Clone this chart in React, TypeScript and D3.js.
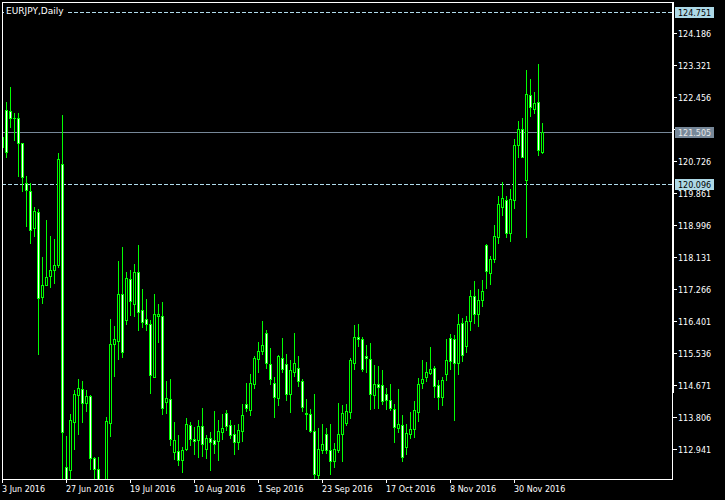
import React, { useEffect } from 'react';
import * as d3 from 'd3';

const TITLE = 'EURJPY,Daily';

const OPEN = [
  121.111, 122.101, 122.082, 121.885, 121.885, 121.219, 120.122, 119.925, 118.908, 119.358,
  117.047, 117.381, 117.613, 117.786, 117.929, 120.645, 112.462, 112.373, 113.676, 114.396,
  114.577, 114.188, 114.369, 112.716, 112.400, 111.834, 111.969, 113.649, 115.790, 115.852,
  117.139, 116.437, 117.543, 116.869, 117.732, 116.688, 116.464, 116.330, 114.889, 116.535,
  116.526, 114.215, 114.307, 112.867, 112.886, 112.643, 112.939, 113.587, 113.228, 113.201,
  113.560, 112.948, 113.255, 113.182, 113.163, 113.406, 113.929, 113.587, 113.344, 113.136,
  113.433, 114.172, 113.991, 114.711, 115.386, 115.591, 116.076, 115.232, 114.738, 114.334,
  115.413, 115.232, 114.442, 115.024, 115.143, 114.773, 113.929, 113.902, 113.425, 112.257,
  112.931, 113.363, 112.931, 112.624, 112.912, 113.363, 113.649, 113.946, 115.278, 115.968,
  115.914, 115.448, 115.386, 114.415, 114.693, 114.666, 114.442, 114.261, 114.037, 113.514,
  113.587, 113.001, 113.363, 113.479, 113.946, 114.738, 114.889, 114.997, 115.132, 114.684,
  114.350, 114.962, 115.952, 115.925, 115.278, 116.346, 115.726, 116.400, 117.074, 116.599,
  116.977, 118.460, 117.705, 118.083, 118.665, 119.474, 119.674, 118.773, 119.674, 121.157,
  121.589, 120.213, 122.506, 122.128, 122.325, 120.958,
];

const HIGH = [
  121.543, 122.325, 122.711, 122.020, 122.020, 121.219, 120.329, 120.132, 119.493, 119.439,
  118.126, 119.143, 118.711, 118.630, 120.950, 121.974, 113.290, 113.902, 114.531, 114.827,
  114.773, 114.531, 114.396, 112.732, 112.732, 112.049, 113.811, 116.446, 116.257, 118.037,
  118.414, 117.721, 117.786, 117.948, 118.468, 117.273, 116.985, 116.419, 117.139, 116.869,
  116.904, 114.773, 114.827, 113.676, 113.317, 113.001, 113.784, 113.676, 113.541, 113.722,
  114.064, 113.317, 113.406, 113.964, 113.740, 113.902, 113.991, 113.740, 113.606, 113.614,
  114.153, 114.728, 114.962, 115.448, 115.833, 116.392, 116.168, 115.682, 114.889, 115.475,
  115.952, 115.502, 115.340, 116.087, 115.448, 114.846, 114.307, 114.037, 114.423, 113.525,
  113.633, 113.525, 113.614, 113.120, 114.199, 114.145, 114.172, 115.402, 116.284, 116.311,
  115.968, 115.763, 115.817, 115.205, 115.178, 115.070, 114.604, 114.711, 114.172, 114.558,
  113.875, 113.614, 113.946, 114.234, 114.873, 115.340, 115.294, 115.699, 115.178, 114.800,
  114.889, 115.906, 116.041, 116.014, 116.599, 116.481, 116.526, 117.228, 117.497, 117.255,
  117.524, 118.487, 118.153, 119.000, 119.790, 120.167, 119.771, 119.971, 121.319, 121.813,
  121.885, 123.188, 122.937, 122.595, 123.342, 121.751,
];

const LOW = [
  121.003, 120.823, 121.632, 121.300, 120.310, 119.906, 118.981, 118.503, 118.711, 115.521,
  116.885, 117.363, 117.317, 117.425, 117.856, 109.500, 111.500, 111.834, 112.958, 113.363,
  113.676, 113.972, 112.419, 112.049, 111.699, 111.564, 111.780, 113.298, 114.916, 115.367,
  115.429, 116.330, 116.553, 116.526, 116.149, 116.238, 116.149, 114.458, 114.889, 115.833,
  113.902, 113.918, 113.047, 112.689, 112.508, 112.327, 112.912, 113.047, 112.805, 112.732,
  112.751, 112.705, 112.373, 112.840, 112.643, 113.228, 113.452, 113.244, 112.805, 112.939,
  113.155, 113.972, 113.856, 114.604, 115.024, 115.502, 115.143, 114.693, 113.811, 114.126,
  115.024, 114.261, 113.946, 114.916, 114.639, 113.964, 113.479, 113.406, 112.100, 112.100,
  112.840, 112.840, 112.265, 112.462, 112.867, 112.624, 113.587, 113.784, 115.116, 115.717,
  115.043, 115.024, 114.018, 114.053, 114.053, 114.172, 114.018, 113.991, 113.136, 113.406,
  112.624, 112.823, 113.244, 113.271, 113.695, 114.593, 114.773, 114.981, 114.350, 114.018,
  114.126, 114.800, 115.116, 113.722, 114.962, 115.321, 115.564, 116.149, 116.357, 116.265,
  116.796, 117.300, 117.408, 117.991, 118.503, 119.269, 118.684, 118.557, 119.447, 120.823,
  120.823, 118.684, 121.929, 122.020, 120.896, 120.931,
];

const CLOSE = [
  121.381, 120.958, 121.885, 121.880, 121.200, 120.283, 119.944, 118.865, 119.385, 117.031,
  117.363, 117.586, 117.786, 117.929, 120.780, 113.406, 111.969, 113.722, 114.423, 114.604,
  114.188, 114.369, 112.716, 112.419, 111.834, 111.915, 113.695, 115.790, 115.906, 117.139,
  115.564, 117.570, 116.939, 117.732, 116.642, 116.373, 116.330, 114.954, 116.580, 116.599,
  114.053, 114.334, 113.228, 113.182, 112.643, 112.912, 113.614, 113.209, 113.163, 113.560,
  113.093, 113.255, 113.136, 113.093, 113.425, 113.514, 113.568, 113.336, 113.136, 113.452,
  113.875, 114.053, 114.738, 115.413, 115.591, 115.744, 115.278, 114.846, 114.350, 115.448,
  115.116, 114.442, 115.089, 115.267, 114.782, 114.080, 113.902, 113.433, 112.265, 112.939,
  113.093, 112.912, 112.624, 112.958, 113.363, 113.929, 113.964, 115.340, 115.968, 115.925,
  115.097, 115.402, 114.442, 114.693, 114.620, 114.242, 114.261, 114.053, 113.541, 113.633,
  112.732, 113.390, 113.498, 113.991, 114.711, 114.827, 115.024, 115.116, 114.647, 114.350,
  114.800, 115.359, 115.321, 115.278, 116.330, 115.494, 116.400, 117.074, 116.580, 116.977,
  117.201, 117.748, 118.083, 118.692, 119.566, 119.728, 118.773, 119.701, 121.157, 121.589,
  120.823, 122.533, 122.171, 122.290, 121.022, 121.505,
];

const PRICE_TICKS = [
  124.186, 123.321, 122.456, 121.591, 120.726, 119.861, 118.996, 118.131,
  117.266, 116.401, 115.536, 114.671, 113.806, 112.941,
];

const DATE_TICK_BARS = [0, 16, 32, 48, 64, 80, 96, 112, 128];
const DATE_LABELS = [
  '3 Jun 2016', '27 Jun 2016', '19 Jul 2016', '10 Aug 2016', '1 Sep 2016',
  '23 Sep 2016', '17 Oct 2016', '8 Nov 2016', '30 Nov 2016',
];

const LEVELS = [124.751, 120.096];
const BID = 121.505;

const W = 725;
const H = 500;
const LEFT = 2;
const TOP = 2;
const RIGHT = 672;
const BOTTOM = 479;
const GREEN = '#00ff00';
const FONT = "'DejaVu Sans', Verdana, sans-serif";

export default function App() {
  useEffect(() => {
    document.body.style.margin = '0';
    document.body.style.background = '#000';
  }, []);

  const x = d3.scaleLinear().domain([0, 1]).range([2, 6]);
  const y = d3.scaleLinear().domain([112.941, 124.186]).range([449.3, 32.7]);
  const py = (p: number) => Math.round(y(p));

  const candles = OPEN.map((o, i) => {
    const cx = Math.round(x(i));
    const yh = py(HIGH[i]);
    const yl = py(LOW[i]);
    const yo = py(o);
    const yc = py(CLOSE[i]);
    const top = Math.min(yo, yc);
    const bot = Math.max(yo, yc);
    const bull = CLOSE[i] > o;
    return (
      <g key={i}>
        <line x1={cx + 0.5} x2={cx + 0.5} y1={yh} y2={yl + 1} stroke={GREEN} strokeWidth={1} />
        {bot - top < 1 ? (
          <line x1={cx - 1} x2={cx + 2} y1={top + 0.5} y2={top + 0.5} stroke={GREEN} strokeWidth={1} />
        ) : (
          <rect
            x={cx - 0.5}
            y={top + 0.5}
            width={2}
            height={bot - top}
            fill={bull ? '#000' : '#fff'}
            stroke={GREEN}
            strokeWidth={1}
          />
        )}
      </g>
    );
  });

  const bidY = py(BID) + 0.5;
  const bidBoxTop = py(BID) - 5;
  const bidBoxBottom = py(BID) + 6;

  return (
    <svg
      width={W}
      height={H}
      style={{ position: 'absolute', left: 0, top: 0, display: 'block' }}
      shapeRendering="crispEdges"
    >
      <defs>
        <clipPath id="plot">
          <rect x={LEFT + 1} y={TOP + 1} width={RIGHT - LEFT - 1} height={BOTTOM - TOP - 1} />
        </clipPath>
      </defs>
      <rect x={0} y={0} width={W} height={H} fill="#000" />

      <g clipPath="url(#plot)">
        {LEVELS.map((lv, i) => (
          <line
            key={i}
            x1={LEFT}
            x2={RIGHT}
            y1={py(lv) + 0.5}
            y2={py(lv) + 0.5}
            stroke="#b0dcec"
            strokeWidth={1}
            strokeDasharray="4,2"
          />
        ))}
        <line x1={LEFT} x2={RIGHT} y1={bidY} y2={bidY} stroke="#778899" strokeWidth={1} />
        {candles}
      </g>

      {/* frame */}
      <rect
        x={LEFT + 0.5}
        y={TOP + 0.5}
        width={RIGHT - LEFT}
        height={BOTTOM - TOP}
        fill="none"
        stroke="#fff"
        strokeWidth={1}
      />
      <rect x={RIGHT} y={TOP} width={2} height={393 - TOP} fill="#fff" />

      {/* title */}
      <rect x={4} y={5} width={63} height={10} fill="#000" />
      <text x={6} y={14} fill="#fff" fontFamily={FONT} fontSize={9}>
        {TITLE}
      </text>

      {/* price axis */}
      {PRICE_TICKS.map((t, i) => {
        const ty = py(t);
        const hidden = ty + 4 > bidBoxTop && ty - 4 < bidBoxBottom;
        return (
          <g key={i}>
            <line x1={RIGHT + 1} x2={RIGHT + 5} y1={ty + 0.5} y2={ty + 0.5} stroke="#fff" />
            {!hidden && (
              <text x={678} y={ty + 3.5} fill="#fff" fontFamily={FONT} fontSize={8}>
                {t.toFixed(3)}
              </text>
            )}
          </g>
        );
      })}

      {LEVELS.map((lv, i) => {
        const ty = py(lv);
        return (
          <g key={'lv' + i}>
            <rect x={675} y={ty - 5} width={39} height={11} fill="#add8e6" />
            <text x={678} y={ty + 3.5} fill="#000" fontFamily={FONT} fontSize={8}>
              {lv.toFixed(3)}
            </text>
          </g>
        );
      })}
      <g>
        <rect x={675} y={bidBoxTop} width={39} height={11} fill="#778899" />
        <text x={678} y={py(BID) + 3.5} fill="#e8e8e8" fontFamily={FONT} fontSize={8}>
          {BID.toFixed(3)}
        </text>
      </g>

      {/* time axis */}
      {DATE_TICK_BARS.map((b, i) => {
        const tx = Math.round(x(b));
        return (
          <g key={'d' + i}>
            <line x1={tx + 0.5} x2={tx + 0.5} y1={BOTTOM} y2={BOTTOM + 4} stroke="#fff" />
            <text x={tx} y={492} fill="#fff" fontFamily={FONT} fontSize={8}>
              {DATE_LABELS[i]}
            </text>
          </g>
        );
      })}
    </svg>
  );
}
